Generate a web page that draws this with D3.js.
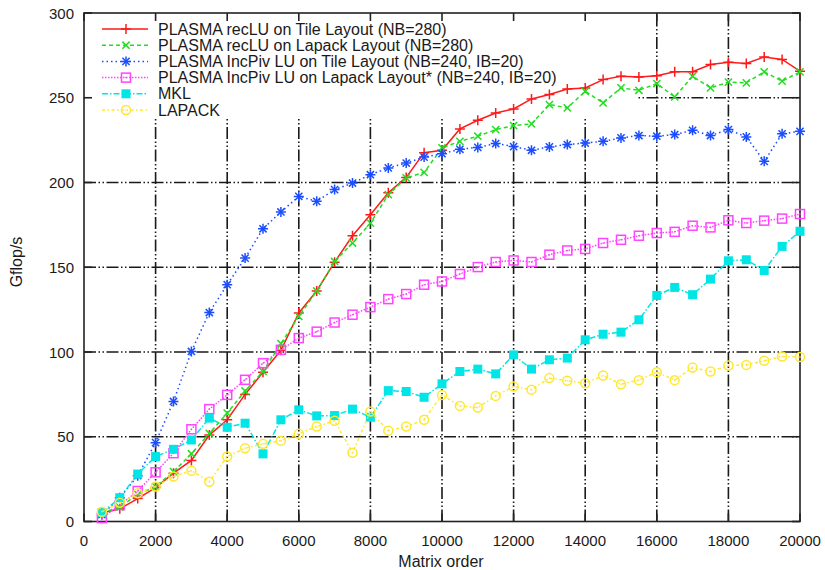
<!DOCTYPE html>
<html>
<head>
<meta charset="utf-8">
<script src="https://cdn.jsdelivr.net/npm/d3@7"></script>
<style>
  body { margin: 0; background: #fff; }
  svg { font-family: "Liberation Sans", Arial, sans-serif; }
</style>
</head>
<body>
<svg width="825" height="570"></svg>
<script>
// LU factorization performance: Gflop/s vs matrix order
const sizes = d3.range(500, 20001, 500);
const xTicks = d3.range(0, 20001, 2000);
const yTicks = [0, 50, 100, 150, 200, 250, 300];

const recluTile = [5,7.5,13.5,20,28.5,36,51,60,75,88,101,123,136,153,168.6,181,194,203,217.6,219,
  231.6,236.7,241,243.4,249.3,251.9,255.2,255.8,260.7,262.7,262.3,263,265.3,265.3,269.6,271,270.2,274.1,272.6,265.7];
const recluLapack = [5,8.5,16,20.6,29.4,40,52,64,77,88.5,105,121,136,153.4,164.3,176,192.8,202.7,206,220.4,
  224.3,227.3,231.2,233.6,234.6,246,244,253.8,247,255.8,254.4,258.4,250.5,262.7,255.8,259.2,258.8,265.3,259.8,265.3];
const incpivTile = [4,14,27,46.5,70.8,100.3,123.3,139.7,155.4,172.7,182.6,191.8,188.9,195.8,199.7,204.6,208.6,211.5,215,217,
  219.6,220.7,223,221.2,219,221,222.4,223.3,224.3,226.3,227.7,227.3,228.3,230.8,227.7,231.2,226.9,212.5,228.7,230.2];
const incpivLapack = [2,9.7,18,29,40.3,54.4,66.3,74.7,83.6,93.4,101.3,108.2,112,117.4,122,126.5,131.2,134.2,139.7,141.6,
  146,150.1,153.1,154,153.1,157.4,159.9,160.8,164.3,166.2,168.6,170.2,170.9,174.5,173.5,177.7,176.1,177.5,178.7,181.4];
const mkl = [5.2,14,28,38.3,42.6,48.1,61,55.6,58,39.9,60,65.9,62.3,62.5,66.3,61.5,77.2,76.7,73.3,81.2,
  88.5,89.9,87.1,98.3,89.9,95.4,96.4,107.2,110.5,111.7,119,133.4,138.1,133.8,143,153.8,154.4,148.1,162.3,171.2];
const lapack = [5.8,11,16.7,20.6,26.5,30,23.5,38.3,43.2,45.8,47.7,51.7,56,59.4,40.6,64.9,53.6,56,60,74.7,
  68.2,67.2,74.1,79.6,77.8,84.6,83,81.6,86.1,81,83.4,88.1,83.4,90.8,88.5,92,92.4,94.8,97.3,97];

const series = [
  { name: 'PLASMA recLU on Tile Layout (NB=280)', values: recluTile, color: '#ff1a1a', dash: null, mark: 'plus' },
  { name: 'PLASMA recLU on Lapack Layout (NB=280)', values: recluLapack, color: '#22dd22', dash: '4,3', mark: 'cross' },
  { name: 'PLASMA IncPiv LU on Tile Layout (NB=240, IB=20)', values: incpivTile, color: '#1a4dff', dash: '1.5,3', mark: 'star' },
  { name: 'PLASMA IncPiv LU on Lapack Layout* (NB=240, IB=20)', values: incpivLapack, color: '#ff44ff', dash: '1.5,1.5', mark: 'osquare' },
  { name: 'MKL', values: mkl, color: '#00e5e5', dash: '6,2,1.5,2', mark: 'fsquare' },
  { name: 'LAPACK', values: lapack, color: '#ffe830', dash: '3,2.5,1.5,2.5', mark: 'ocircle' }
];

const svg = d3.select('svg');
const L = 84, R = 800, T = 13, B = 521.5;
const xs = d3.scaleLinear().domain([0, 20000]).range([L, R]);
const ys = d3.scaleLinear().domain([0, 300]).range([B, T]);

// grid (dash-dot-dot)
const grid = svg.append('g').attr('stroke', '#1a1a1a').attr('stroke-width', 1.6)
  .attr('stroke-dasharray', '12,2.5,1.5,2.5,1.5,2.5');
xTicks.slice(1, -1).forEach(v => grid.append('line')
  .attr('x1', xs(v)).attr('x2', xs(v)).attr('y1', B).attr('y2', T));
yTicks.slice(1, -1).forEach(v => grid.append('line')
  .attr('x1', L).attr('x2', R).attr('y1', ys(v)).attr('y2', ys(v)));

// legend backdrop hides the grid behind it
svg.append('rect').attr('x', L + 1).attr('y', T + 1).attr('width', 637 - L).attr('height', 117 - T)
  .attr('fill', '#fff');

// frame and inward ticks on all sides
const ax = svg.append('g').attr('stroke', '#222').attr('stroke-width', 1.6);
ax.append('rect').attr('x', L).attr('y', T).attr('width', R - L).attr('height', B - T).attr('fill', 'none');
xTicks.forEach(v => {
  ax.append('line').attr('x1', xs(v)).attr('x2', xs(v)).attr('y1', B).attr('y2', B - 8);
  ax.append('line').attr('x1', xs(v)).attr('x2', xs(v)).attr('y1', T).attr('y2', T + 8);
});
yTicks.forEach(v => {
  ax.append('line').attr('x1', L).attr('x2', L + 8).attr('y1', ys(v)).attr('y2', ys(v));
  ax.append('line').attr('x1', R).attr('x2', R - 8).attr('y1', ys(v)).attr('y2', ys(v));
});

const lab = svg.append('g').attr('fill', '#1a1a1a').attr('font-size', 15);
xTicks.forEach(v => lab.append('text').attr('x', xs(v)).attr('y', B + 24)
  .attr('text-anchor', 'middle').text(v));
yTicks.forEach(v => lab.append('text').attr('x', L - 10).attr('y', ys(v) + 5.5)
  .attr('text-anchor', 'end').text(v));
lab.append('text').attr('x', (L + R) / 2 - 1).attr('y', 567).attr('text-anchor', 'middle')
  .attr('font-size', 16).text('Matrix order');
lab.append('text').attr('transform', 'translate(22,262) rotate(-90)').attr('text-anchor', 'middle')
  .attr('font-size', 16).text('Gflop/s');

function marker(g, kind, x, y, color) {
  const p = g.append('g').attr('transform', `translate(${x},${y})`)
    .attr('stroke', color).attr('stroke-width', 1.5).attr('fill', 'none');
  if (kind === 'plus' || kind === 'star')
    p.append('path').attr('d', 'M-5,0H5M0,-5V5');
  if (kind === 'cross' || kind === 'star')
    p.append('path').attr('d', 'M-3.6,-3.6L3.6,3.6M-3.6,3.6L3.6,-3.6');
  if (kind === 'osquare') {
    p.append('rect').attr('x', -4.5).attr('y', -4.5).attr('width', 9).attr('height', 9);
    p.append('circle').attr('r', 0.8).attr('fill', color).attr('stroke', 'none');
  }
  if (kind === 'fsquare')
    p.append('rect').attr('x', -4.5).attr('y', -4.5).attr('width', 9).attr('height', 9)
      .attr('fill', color).attr('stroke', 'none');
  if (kind === 'ocircle') {
    p.append('circle').attr('r', 4.5);
    p.append('circle').attr('r', 0.8).attr('fill', color).attr('stroke', 'none');
  }
}

const line = d3.line().x((d, i) => xs(sizes[i])).y(d => ys(d));
series.forEach(s => {
  const g = svg.append('g');
  g.append('path').datum(s.values).attr('d', line).attr('fill', 'none')
    .attr('stroke', s.color).attr('stroke-width', 1.5)
    .attr('stroke-dasharray', s.dash);
  s.values.forEach((v, i) => marker(g, s.mark, xs(sizes[i]), ys(v), s.color));
});

// legend
series.forEach((s, i) => {
  const y = 29 + i * 16.2;
  const g = svg.append('g');
  g.append('line').attr('x1', 102).attr('x2', 148).attr('y1', y).attr('y2', y)
    .attr('stroke', s.color).attr('stroke-width', 1.5).attr('stroke-dasharray', s.dash);
  marker(g, s.mark, 126, y, s.color);
  g.append('text').attr('x', 158).attr('y', y + 5.5).attr('font-size', 16).attr('fill', '#1a1a1a').text(s.name);
});
</script>
</body>
</html>
